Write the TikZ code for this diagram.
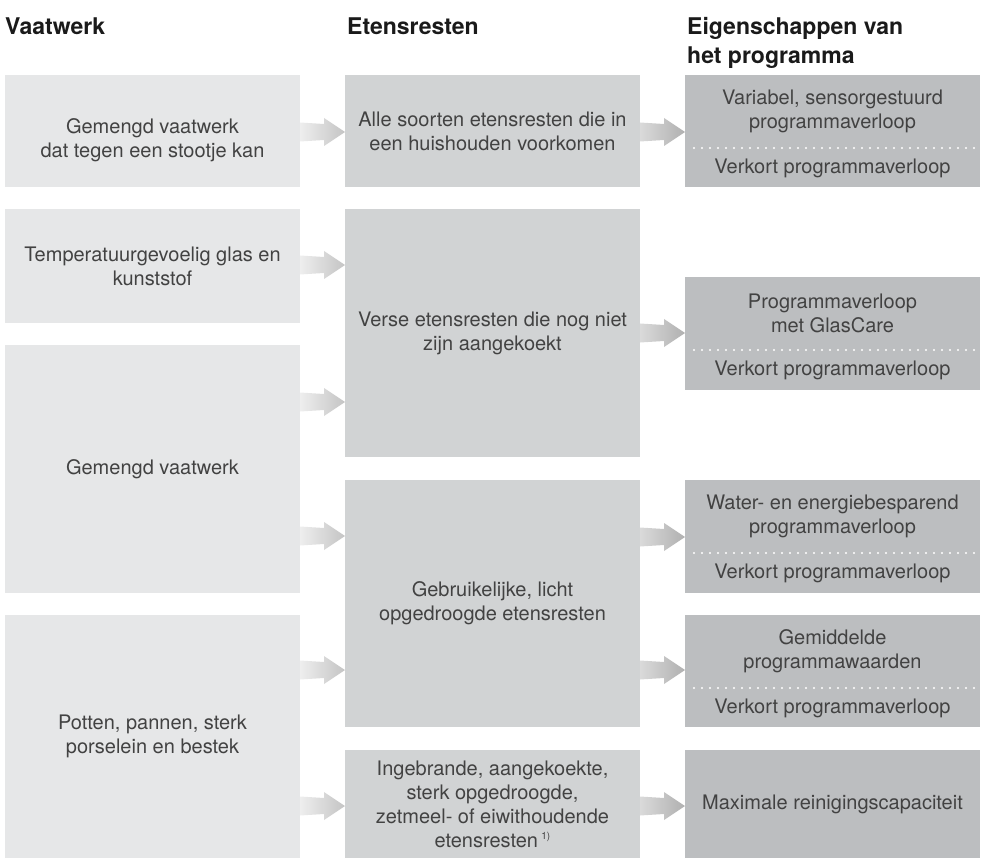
\documentclass[tikz,border=0pt]{standalone}
\usepackage{fontspec}
\setmainfont{TeX Gyre Heros}
\usetikzlibrary{calc}
\definecolor{cA}{HTML}{E6E7E8}
\definecolor{cB}{HTML}{D1D3D4}
\definecolor{cC}{HTML}{BCBEC0}
\definecolor{txt}{HTML}{424242}
\definecolor{head}{HTML}{1A1A1A}
\definecolor{arAl}{HTML}{EEEEEE}
\definecolor{arAr}{HTML}{C4C4C4}
\definecolor{arBl}{HTML}{DADADA}
\definecolor{arBr}{HTML}{B0B0B0}
\tikzset{
  base/.style={anchor=north west, minimum width=295pt, inner sep=0pt, outer sep=0pt,
    text=txt, align=center, font=\fontsize{20}{24}\selectfont},
  boxA/.style={base, fill=cA},
  boxB/.style={base, fill=cB},
  boxC/.style={base, fill=cC},
  ptext/.style={inner sep=0pt, text=txt, align=center, font=\fontsize{20}{24}\selectfont},
  heading/.style={anchor=base west, inner sep=0pt, text=head, font=\fontsize{23}{30}\selectfont\bfseries},
  sepline/.style={white, line width=2.2pt, line cap=round, dash pattern=on 0pt off 8pt},
}
\newcommand{\fatarrow}[4]{%
  \shade[left color=#3, right color=#4]
    ($(#1)+(0,-9.5)$) -- ($(#2)+(-21,-8)$) -- ($(#2)+(-21,-14)$) -- (#2)
    -- ($(#2)+(-21,14)$) -- ($(#2)+(-21,8)$) -- ($(#1)+(0,9.5)$) -- cycle;}
\begin{document}
\begin{tikzpicture}[x=1pt,y=-1pt]
\useasboundingbox (0,0) rectangle (986,861);

% headings
\node[heading] (h1) at (5,35) {Vaatwerk};
\node[heading] (h2) at (347,35) {Etensresten};
\node[heading] (h3) at (687,35) {Eigenschappen van};
\node[heading] (h4) at (687,64) {het programma};

% column 1
\node[boxA, minimum height=112pt] (v1) at (5,75) {};
\node[ptext] (v1t) at (152.5,140) {Gemengd vaatwerk\\dat tegen een stootje kan};
\node[boxA, minimum height=114pt] (v2) at (5,209) {Temperatuurgevoelig glas en\\kunststof};
\node[boxA, minimum height=248pt] (v3) at (5,345) {Gemengd vaatwerk};
\node[boxA, minimum height=243pt] (v4) at (5,615) {Potten, pannen, sterk\\porselein en bestek};

% column 2
\node[boxB, minimum height=112pt] (e1) at (345,75) {Alle soorten etensresten die in\\een huishouden voorkomen};
\node[boxB, minimum height=248pt] (e2) at (345,209) {Verse etensresten die nog niet\\zijn aangekoekt};
\node[boxB, minimum height=247pt] (e3) at (345,480) {Gebruikelijke, licht\\opgedroogde etensresten};
\node[boxB, minimum height=108pt] (e4) at (345,750) {Ingebrande, aangekoekte,\\sterk opgedroogde,\\zetmeel- of eiwithoudende\\etensresten\,\raisebox{0.7ex}{\fontsize{10}{10}\selectfont 1)}};

% column 3
\node[boxC, minimum height=112pt] (p1) at (685,75) {};
\node[boxC, minimum height=113pt] (p2) at (685,277) {};
\node[boxC, minimum height=113pt] (p3) at (685,480) {};
\node[boxC, minimum height=112pt] (p4) at (685,615) {};
\node[boxC, minimum height=108pt] (p5) at (685,750) {};

\node[ptext] (p1a) at (832.5,111.5) {Variabel, sensorgestuurd\\programmaverloop};
\node[ptext] (p1b) at (832.5,168) {Verkort programmaverloop};
\node[ptext] (p2a) at (832.5,313.5) {Programmaverloop\\met GlasCare};
\node[ptext] (p2b) at (832.5,370.5) {Verkort programmaverloop};
\node[ptext] (p3a) at (832.5,516.5) {Water- en energiebesparend\\programmaverloop};
\node[ptext] (p3b) at (832.5,573.5) {Verkort programmaverloop};
\node[ptext] (p4a) at (832.5,651.5) {Gemiddelde\\programmawaarden};
\node[ptext] (p4b) at (832.5,708) {Verkort programmaverloop};
\node[ptext] (p5a) at (832.5,804) {Maximale reinigingscapaciteit};

% dotted separators
\foreach \b/\yy in {p1/148, p2/350, p3/553, p4/688}{
  \draw[sepline] ($(\b.west |- 0,\yy)+(9,0)$) -- ($(\b.east |- 0,\yy)+(-6,0)$);
}

% arrow end points, column 1 -> column 2
\coordinate (a1s) at (v1.east |- 0,132);  \coordinate (a1t) at (e1.west |- 0,132);
\coordinate (a2s) at (v2.east |- 0,265);  \coordinate (a2t) at (e2.west |- 0,265);
\coordinate (a3s) at (v3.east |- 0,402);  \coordinate (a3t) at (e2.west |- 0,402);
\coordinate (a4s) at (v3.east |- 0,536);  \coordinate (a4t) at (e3.west |- 0,536);
\coordinate (a5s) at (v4.east |- 0,670);  \coordinate (a5t) at (e3.west |- 0,670);
\coordinate (a6s) at (v4.east |- 0,806);  \coordinate (a6t) at (e4.west |- 0,806);
% column 2 -> column 3
\coordinate (b1s) at (e1.east |- 0,132);  \coordinate (b1t) at (p1.west |- 0,132);
\coordinate (b2s) at (e2.east |- 0,333);  \coordinate (b2t) at (p2.west |- 0,333);
\coordinate (b3s) at (e3.east |- 0,537);  \coordinate (b3t) at (p3.west |- 0,537);
\coordinate (b4s) at (e3.east |- 0,670);  \coordinate (b4t) at (p4.west |- 0,670);
\coordinate (b5s) at (e4.east |- 0,806);  \coordinate (b5t) at (p5.west |- 0,806);

\foreach \n in {1,...,6}{\fatarrow{a\n s}{a\n t}{arAl}{arAr}}
\foreach \n in {1,...,5}{\fatarrow{b\n s}{b\n t}{arBl}{arBr}}
\end{tikzpicture}
\end{document}
